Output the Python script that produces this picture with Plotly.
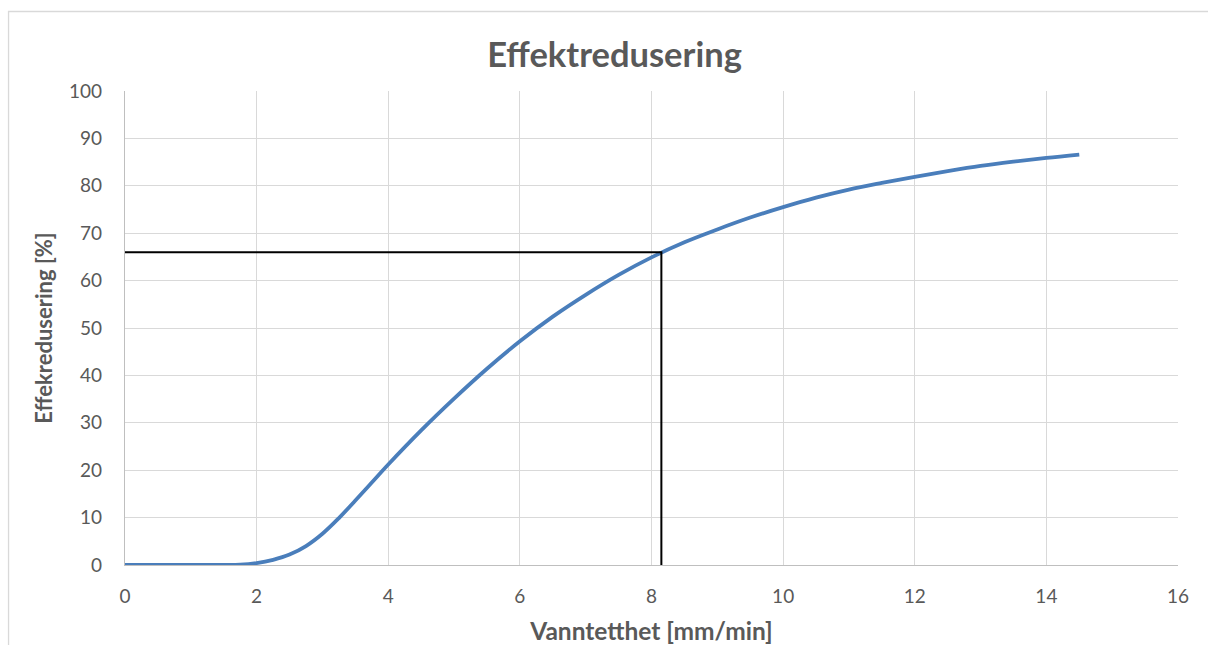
import plotly.graph_objects as go

# Effect reduction curve vs. water density
vanntetthet = [0, 0.5, 1.0, 1.5, 1.75, 2.0, 2.25, 2.5, 2.75, 3.0, 3.25, 3.5, 3.75, 4.0,
               4.5, 5.0, 5.5, 6.0, 6.5, 7.0, 7.5, 8.0, 8.5, 9.0, 9.5, 10.0, 10.5,
               11.0, 11.5, 12.0, 12.5, 13.0, 13.5, 14.0, 14.5]
effektredusering = [0, 0, 0, 0, 0.05, 0.4, 1.1, 2.2, 4.0, 6.6, 9.9, 13.6, 17.4, 21.2,
                    28.4, 35.1, 41.4, 47.2, 52.4, 57.0, 61.2, 64.9, 68.1, 70.8, 73.3,
                    75.5, 77.5, 79.2, 80.6, 81.9, 83.1, 84.2, 85.1, 85.9, 86.6]

# Reading marker: design point on the curve
les_x = [0, 8.15, 8.15]
les_y = [66, 66, 0]

x_ticks = [0, 2, 4, 6, 8, 10, 12, 14, 16]
y_ticks = [0, 10, 20, 30, 40, 50, 60, 70, 80, 90, 100]

grey = "#595959"
grid = "#d9d9d9"
axis_line = "#bfbfbf"
font_family = "Lato, Carlito, Calibri, sans-serif"

fig = go.Figure()

fig.add_trace(go.Scatter(
    x=vanntetthet, y=effektredusering, mode="lines",
    line=dict(color="#4a7ebb", width=3.8, shape="spline", smoothing=1.0),
    hoverinfo="x+y", showlegend=False,
))

fig.add_trace(go.Scatter(
    x=les_x, y=les_y, mode="lines",
    line=dict(color="#000000", width=2),
    hoverinfo="skip", showlegend=False,
))

fig.update_layout(
    width=1208, height=645,
    margin=dict(l=125, r=30, t=91, b=80, autoexpand=False),
    paper_bgcolor="white", plot_bgcolor="white",
    font=dict(family=font_family, color=grey, size=19),
    title=dict(text="<b>Effektredusering</b>", x=0.5087, xanchor="center",
               xref="container", yref="container", y=0.9147, yanchor="middle",
               font=dict(size=34.5, color=grey, family=font_family)),
    xaxis=dict(
        range=[0, 16], tickvals=x_ticks, ticktext=[str(v) for v in x_ticks],
        showgrid=True, gridcolor=grid, gridwidth=1.4,
        zeroline=False, showline=True, linecolor=axis_line, linewidth=1.4,
        ticks="", ticklabelstandoff=14, automargin=False,
        title=dict(text="<b>Vanntetthet [mm/min]</b>", standoff=28,
                   font=dict(size=24.5, color=grey)),
        fixedrange=True,
    ),
    yaxis=dict(
        range=[0, 100], tickvals=y_ticks, ticktext=[str(v) for v in y_ticks],
        showgrid=True, gridcolor=grid, gridwidth=1.4,
        zeroline=False, showline=True, linecolor=axis_line, linewidth=1.4,
        ticks="", ticklabelstandoff=18, automargin=False,
        title=dict(text="<b>Effekredusering [%]</b>", standoff=10,
                   font=dict(size=22, color=grey)),
        fixedrange=True,
    ),
    shapes=[dict(
        type="rect", xref="paper", yref="paper",
        x0=-0.1106, x1=1.2, y0=-0.3, y1=1.1677,
        line=dict(color="#d9d9d9", width=1.3), fillcolor="rgba(0,0,0,0)",
        layer="below",
    )],
)

fig.write_html("out.html")
